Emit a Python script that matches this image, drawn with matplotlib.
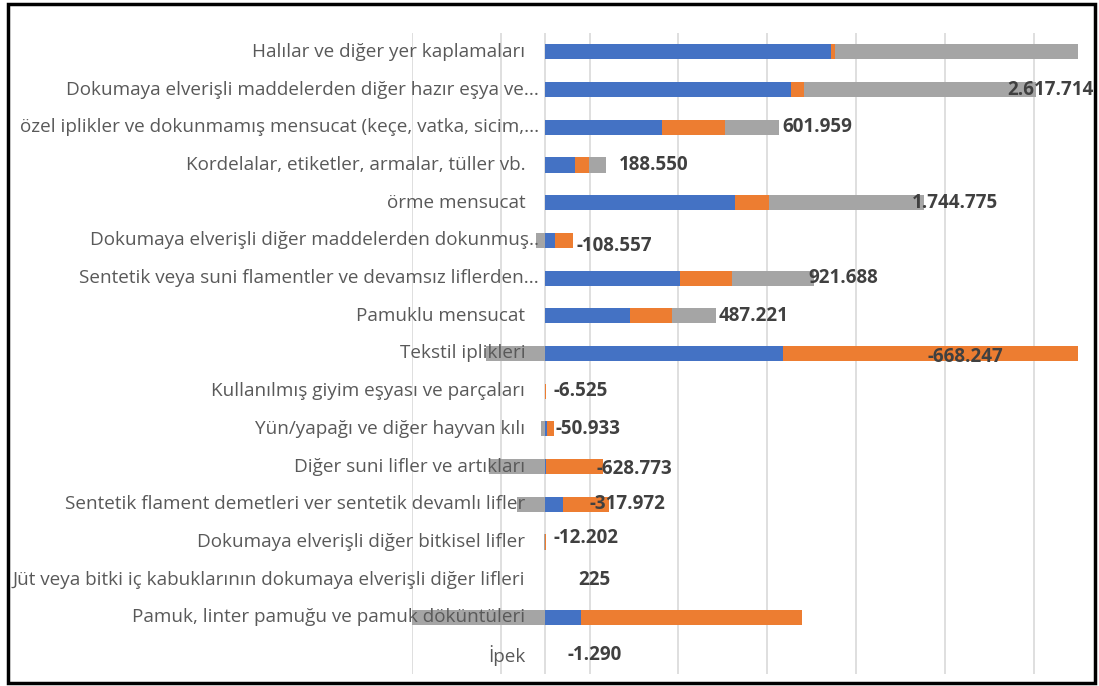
import matplotlib.pyplot as plt
from matplotlib.patches import Rectangle

# Tekstil dış ticareti: ihracat (mavi), ithalat (turuncu), fark (gri)
kategoriler = [
    "Halılar ve diğer yer kaplamaları",
    "Dokumaya elverişli maddelerden diğer hazır eşya ve...",
    "özel iplikler ve dokunmamış mensucat (keçe, vatka, sicim,...",
    "Kordelalar, etiketler, armalar, tüller vb.",
    "örme mensucat",
    "Dokumaya elverişli diğer maddelerden dokunmuş..",
    "Sentetik veya suni flamentler ve devamsız liflerden...",
    "Pamuklu mensucat",
    "Tekstil iplikleri",
    "Kullanılmış giyim eşyası ve parçaları",
    "Yün/yapağı ve diğer hayvan kılı",
    "Diğer suni lifler ve artıkları",
    "Sentetik flament demetleri ver sentetik devamlı lifler",
    "Dokumaya elverişli diğer bitkisel lifler",
    "Jüt veya bitki iç kabuklarının dokumaya elverişli diğer lifleri",
    "Pamuk, linter pamuğu ve pamuk döküntüleri",
    "İpek",
]
ihracat = [3216000, 2765000, 1315000, 340000, 2135000, 105000, 1515000, 960000,
           2680000, 1000, 22000, 10000, 200000, 300, 1500, 404000, 200]
ithalat = [51000, 147286, 713041, 151450, 390225, 213557, 593312, 472779,
           3348247, 7525, 72933, 638773, 517972, 12502, 1275, 2488000, 1490]
fark = [e - i for e, i in zip(ihracat, ithalat)]

# etiket kaydırmaları (piksel)
etiket_dx = [0, -29, 4, 13, -13, 3, -6, 3, -150, 8, 2, -6, -19, 7, 33, 0, 22]
etiket_dy = [0, 0, 0, 0, 0, 6, 0, 0, 3, 0, 0, 2, 0, -4, 0, 0, 0]

MAVI, TURUNCU, GRI = "#4472C4", "#ED7D31", "#A5A5A5"
XMIN, XMAX = -1500000, 6000000

plt.rcParams["font.family"] = ["Open Sans", "DejaVu Sans"]
fig = plt.figure(figsize=(10.99, 6.86), dpi=100)
W, H = 1099, 686
ax = fig.add_axes([412 / W, 12 / H, 666 / W, 641 / H])

y = list(range(len(kategoriler)))
h = 0.4
ax.barh(y, ihracat, height=h, color=MAVI, zorder=2)
ax.barh(y, ithalat, height=h, left=ihracat, color=TURUNCU, zorder=2)
gri_sol = [e + i if f >= 0 else 0 for e, i, f in zip(ihracat, ithalat, fark)]
ax.barh(y, fark, height=h, left=gri_sol, color=GRI, zorder=2)

# Excel tarzı ızgara: -1,5 milyondan başlayıp milyonluk aralıklar
for gx in range(XMIN, XMAX, 1000000):
    ax.axvline(gx, color="#D9D9D9", lw=1.2, zorder=0)
ax.axvline(0, color="#D9D9D9", lw=1.2, zorder=0)

ax.set_xlim(XMIN, XMAX)
ax.set_ylim(len(kategoriler) - 0.5, -0.5)
ax.axis("off")

# kategori adları eksen çizgisinin solunda
for i, ad in enumerate(kategoriler):
    sag = -6 if ad.endswith("..") else -20
    ax.annotate(ad, xy=(0, i), xytext=(sag, 0), textcoords="offset pixels",
                ha="right", va="center", fontsize=13.6, color="#595959",
                zorder=5, annotation_clip=False)

# fark değerleri
for i, f in enumerate(fark):
    uc = gri_sol[i] + f if f >= 0 else f
    if not (XMIN <= uc <= XMAX):
        continue
    x = min(ihracat[i] + ithalat[i] + max(f, 0), XMAX)
    metin = f"{f:,}".replace(",", ".")
    ax.annotate(metin, xy=(x, i), xytext=(etiket_dx[i], -etiket_dy[i]),
                textcoords="offset pixels", ha="left", va="center",
                fontsize=13.5, fontweight="bold", color="#404040",
                zorder=6, annotation_clip=False)

fig.patches.append(Rectangle((8 / W, 3 / H), 1087 / W, 679 / H,
                             transform=fig.transFigure, fill=False,
                             edgecolor="black", lw=2.5, zorder=10))

fig.savefig("out.png", dpi=100)
